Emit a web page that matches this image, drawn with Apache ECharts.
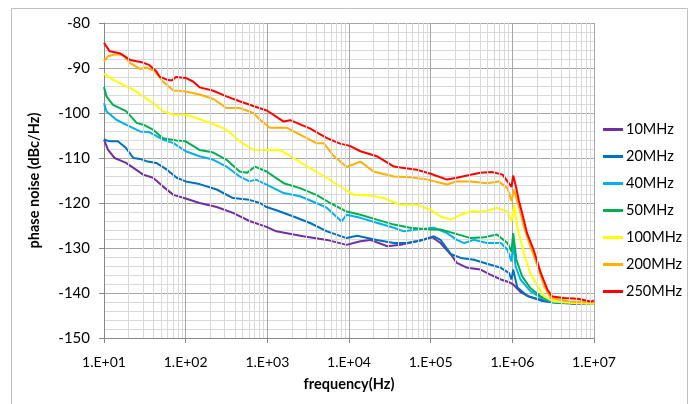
<!DOCTYPE html>
<html><head><meta charset="utf-8">
<script src="https://cdn.jsdelivr.net/npm/echarts@6/dist/echarts.min.js"></script>
<style>html,body{margin:0;padding:0;background:#fff}#c{width:693px;height:404px}</style>
</head><body><div id="c"></div>
<script>
// series names and colours
const seriesNames = ['10MHz','20MHz','40MHz','50MHz','100MHz','200MHz','250MHz'];
const seriesColors = ['#7030a0','#0070c0','#00b0f0','#00b050','#ffff00','#ffb000','#ff0000'];
// x values are log10(frequency in Hz), y values are dBc/Hz
const lf10 = [1.0,1.05,1.13,1.27,1.36,1.48,1.6,1.72,1.85,2.0,2.17,2.38,2.58,2.78,2.99,3.11,3.24,3.44,3.73,3.97,4.14,4.26,4.47,4.63,4.83,5.02,5.12,5.25,5.32,5.45,5.61,5.73,5.86,5.96,6.01,6.1,6.22,6.43,6.75,7.0];
const db10 = [-105.9,-108.2,-110.0,-111.1,-112.2,-113.7,-114.4,-116.3,-118.2,-119.0,-120.0,-120.9,-122.2,-124.0,-125.3,-126.3,-126.7,-127.4,-128.2,-129.3,-128.5,-128.2,-129.6,-129.3,-128.5,-127.6,-128.9,-131.5,-133.3,-134.4,-134.8,-135.9,-137.0,-137.6,-138.1,-139.8,-140.9,-141.9,-142.4,-142.4];
const lf20 = [1.0,1.07,1.17,1.27,1.36,1.44,1.52,1.64,1.77,1.89,2.0,2.17,2.38,2.58,2.78,2.91,2.99,3.11,3.32,3.53,3.73,3.97,4.1,4.34,4.55,4.71,4.91,5.04,5.12,5.25,5.37,5.53,5.69,5.86,5.96,5.99,6.01,6.06,6.18,6.35,6.55,7.0];
const db20 = [-105.9,-106.3,-106.3,-107.8,-110.0,-110.2,-110.7,-111.1,-112.6,-114.4,-115.2,-115.8,-117.0,-118.9,-119.3,-120.0,-120.9,-121.6,-123.0,-124.5,-126.3,-127.8,-127.3,-128.2,-128.9,-128.9,-128.2,-127.4,-128.2,-131.4,-132.2,-132.6,-133.5,-134.4,-135.6,-137.0,-134.8,-138.7,-140.6,-141.7,-142.2,-142.4];
const lf40 = [1.0,1.03,1.15,1.27,1.44,1.56,1.72,1.85,2.0,2.17,2.34,2.5,2.66,2.78,2.86,2.99,3.2,3.4,3.6,3.73,3.91,3.97,4.14,4.34,4.55,4.67,4.83,5.04,5.2,5.32,5.41,5.53,5.69,5.86,5.94,5.99,6.01,6.04,6.1,6.22,6.35,6.51,7.0];
const db40 = [-97.8,-99.6,-101.5,-102.6,-104.1,-104.3,-105.9,-106.7,-108.5,-109.6,-110.4,-111.9,-114.1,-115.2,-114.8,-115.9,-117.8,-118.5,-120.0,-121.1,-124.1,-122.6,-123.3,-124.4,-125.5,-126.3,-125.9,-125.5,-126.7,-128.2,-128.9,-128.2,-128.9,-128.9,-130.4,-133.0,-128.9,-134.1,-137.0,-139.6,-141.1,-142.1,-142.4];
const lf50 = [1.0,1.03,1.11,1.27,1.4,1.48,1.6,1.72,1.89,2.0,2.17,2.34,2.5,2.66,2.75,2.85,2.99,3.2,3.4,3.6,3.77,3.97,4.14,4.34,4.55,4.75,5.0,5.12,5.28,5.49,5.66,5.81,5.94,5.99,6.01,6.05,6.12,6.22,6.35,6.51,6.8,7.0];
const db50 = [-94.2,-96.3,-98.2,-99.6,-102.2,-102.6,-103.7,-105.6,-106.1,-106.3,-108.2,-108.8,-110.4,-113.0,-113.3,-111.9,-113.0,-115.6,-116.7,-118.2,-120.0,-121.9,-122.6,-123.7,-124.8,-125.5,-125.9,-125.9,-126.7,-127.8,-127.6,-127.0,-128.9,-130.8,-126.7,-132.6,-136.3,-138.9,-140.8,-141.9,-142.2,-142.4];
const lf100 = [1.0,1.11,1.23,1.36,1.48,1.6,1.72,1.85,2.0,2.13,2.3,2.5,2.66,2.83,2.99,3.16,3.32,3.48,3.69,3.89,4.06,4.22,4.42,4.63,4.83,5.0,5.12,5.25,5.37,5.49,5.66,5.81,5.94,5.99,6.02,6.06,6.14,6.22,6.31,6.39,6.51,6.75,7.0];
const db100 = [-91.3,-92.6,-93.7,-94.8,-96.3,-97.8,-99.6,-100.4,-100.4,-101.1,-102.2,-103.7,-106.3,-108.2,-108.2,-108.3,-110.0,-111.8,-114.0,-116.3,-118.2,-118.2,-118.9,-120.4,-120.4,-121.5,-123.0,-123.7,-122.6,-121.9,-121.9,-121.1,-121.9,-124.1,-120.4,-125.2,-131.1,-135.6,-138.5,-140.8,-141.9,-142.2,-142.4];
const lf200 = [1.0,1.05,1.13,1.23,1.32,1.44,1.52,1.62,1.72,1.85,2.0,2.17,2.34,2.5,2.66,2.83,2.91,3.03,3.24,3.44,3.6,3.69,3.81,3.97,4.14,4.3,4.55,4.75,4.96,5.2,5.32,5.49,5.69,5.83,5.94,5.99,6.02,6.08,6.14,6.22,6.31,6.39,6.47,6.71,7.0];
const db200 = [-88.5,-87.4,-87.0,-87.0,-88.9,-90.2,-89.9,-90.7,-93.0,-95.0,-95.2,-95.9,-96.9,-98.9,-98.9,-100.0,-101.5,-103.3,-103.3,-105.2,-106.7,-106.7,-109.5,-112.0,-110.8,-113.0,-114.1,-114.3,-114.8,-115.9,-115.2,-115.2,-115.6,-115.2,-116.7,-119.6,-117.0,-120.7,-125.2,-129.6,-134.1,-138.5,-141.1,-141.9,-142.1];
const lf250 = [1.0,1.07,1.19,1.32,1.46,1.55,1.64,1.68,1.77,1.83,1.88,2.0,2.09,2.17,2.33,2.5,2.66,2.82,3.0,3.2,3.28,3.52,3.73,3.89,4.01,4.14,4.34,4.55,4.67,4.83,5.0,5.2,5.32,5.49,5.61,5.75,5.88,5.94,5.99,6.01,6.04,6.08,6.12,6.18,6.26,6.35,6.43,6.49,6.63,6.8,6.96,7.0];
const db250 = [-84.4,-86.3,-86.7,-88.2,-88.7,-89.3,-90.7,-91.9,-92.6,-92.8,-92.0,-92.2,-93.0,-94.3,-95.0,-96.3,-97.4,-98.4,-99.5,-101.9,-101.6,-103.4,-105.6,-106.8,-107.3,-108.5,-109.6,-111.9,-112.2,-112.6,-113.5,-114.8,-114.4,-113.7,-113.3,-113.1,-113.7,-115.2,-116.4,-113.9,-116.0,-119.5,-122.2,-126.7,-130.4,-135.6,-139.3,-140.8,-141.1,-141.3,-141.9,-141.7];
// axis ticks
const xMin = 10, xMax = 1e7;
const yMin = -150, yMax = -80, yStep = 10;
const minorFactors = [2,3,4,5,6,7,8,9];
const decadeStarts = [10,100,1000,10000,100000,1000000];

const allLf = [lf10,lf20,lf40,lf50,lf100,lf200,lf250];
const allDb = [db10,db20,db40,db50,db100,db200,db250];

const FONT = 'Lato, "Liberation Sans", sans-serif';
const minorLines = [];
decadeStarts.forEach(d => minorFactors.forEach(m => minorLines.push({xAxis: d*m})));

const series = [{
  type:'line', data:[], z:1, silent:true,
  markLine:{silent:true, symbol:'none', label:{show:false}, animation:false,
    lineStyle:{color:'#d9d9d9', width:1, type:'solid'}, data:minorLines}
}];
seriesNames.forEach((n,i)=>{
  series.push({
    name:n, type:'line', showSymbol:false, symbol:'none', z:3,
    lineStyle:{width:2, color:seriesColors[i]}, itemStyle:{color:seriesColors[i]},
    data: allLf[i].map((lf,k)=>[Math.pow(10,lf), allDb[i][k]])
  });
});

const chart = echarts.init(document.getElementById('c'));
chart.setOption({
  animation:false,
  backgroundColor:'#fff',
  graphic:[{type:'rect', shape:{x:11.5,y:8.5,width:676,height:420}, style:{fill:'none', stroke:'#bfbfbf', lineWidth:1}, silent:true, z:-1}],
  grid:{left:104, right:99, top:23, bottom:66},
  legend:{
    data:seriesNames, orient:'vertical', left:598, top:117,
    icon:'rect', itemWidth:20, itemHeight:3, itemGap:12,
    textStyle:{fontFamily:FONT, fontSize:14.5, color:'#000', padding:[0,0,0,-2]}
  },
  xAxis:{
    type:'log', logBase:10, min:xMin, max:xMax,
    name:'frequency(Hz)', nameLocation:'middle', nameGap:39,
    nameTextStyle:{fontFamily:FONT, fontSize:14.5, fontWeight:'bold', color:'#000'},
    axisLine:{show:true, lineStyle:{color:'#868686'}},
    axisTick:{show:true, length:5, lineStyle:{color:'#868686'}},
    axisLabel:{fontFamily:FONT, fontSize:14, color:'#000', margin:17,
      formatter:v=>'1.E+'+String(Math.round(Math.log10(v))).padStart(2,'0')},
    splitLine:{show:true, lineStyle:{color:'#a6a6a6', width:1}}
  },
  yAxis:{
    type:'value', min:yMin, max:yMax, interval:yStep,
    name:'phase noise (dBc/Hz)', nameLocation:'middle', nameGap:62,
    nameTextStyle:{fontFamily:FONT, fontSize:14.5, fontWeight:'bold', color:'#000'},
    axisLine:{show:true, lineStyle:{color:'#868686'}},
    axisTick:{show:true, length:5, lineStyle:{color:'#868686'}},
    axisLabel:{fontFamily:FONT, fontSize:15, color:'#000', margin:14},
    splitLine:{show:true, lineStyle:{color:'#a6a6a6', width:1}},
    minorTick:{show:false, splitNumber:5},
    minorSplitLine:{show:true, lineStyle:{color:'#d9d9d9', width:1}}
  },
  series:series
});
</script></body></html>
